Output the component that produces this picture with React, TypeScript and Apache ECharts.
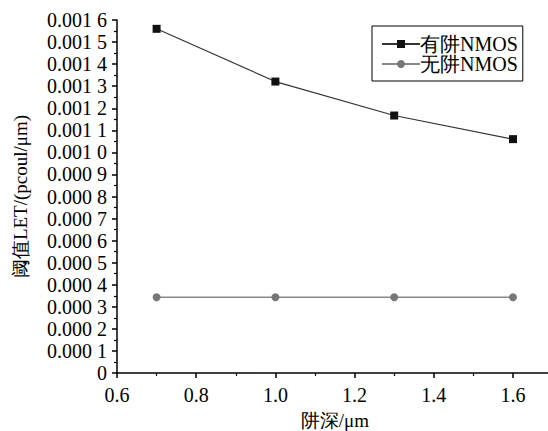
import React, { useEffect, useRef } from "react";
import * as echarts from "echarts";

const depths = [0.7, 1.0, 1.3, 1.6];
const withWell = [0.00156, 0.001321, 0.001167, 0.00106];
const withoutWell = [0.000343, 0.000343, 0.000343, 0.000343];
const seriesNames = ["有阱NMOS", "无阱NMOS"];

const serif = "Liberation Serif";

function fmtY(v: number): string {
  if (Math.abs(v) < 1e-12) return "0";
  const s = v.toFixed(4);
  return s.slice(0, 5) + " " + s.slice(5);
}

export default function App() {
  const ref = useRef<HTMLDivElement>(null);
  useEffect(() => {
    if (!ref.current) return;
    const chart = echarts.init(ref.current, undefined, { renderer: "svg" });
    chart.setOption({
      animation: false,
      backgroundColor: "#fff",
      textStyle: { fontFamily: serif },
      grid: { left: 117, top: 20, bottom: 58, width: 435.6, containLabel: false, outerBoundsMode: "none" },
      legend: {
        orient: "vertical",
        left: 372,
        top: 26,
        borderColor: "#000",
        borderWidth: 1,
        padding: [8, 5, 7, 9],
        itemGap: 0,
        itemWidth: 38,
        itemHeight: 10,
        textStyle: { fontFamily: serif, fontSize: 20, lineHeight: 19, color: "#000", padding: [0, 0, 0, -5] },
        data: seriesNames,
      },
      xAxis: {
        type: "value",
        min: 0.6,
        max: 1.7,
        interval: 0.2,
        name: "阱深/μm",
        nameLocation: "middle",
        nameGap: 38,
        nameTextStyle: { fontFamily: serif, fontSize: 19, lineHeight: 19, color: "#000" },
        axisLine: { show: true, onZero: false, lineStyle: { color: "#000", width: 1.5 } },
        axisTick: { show: true, inside: false, length: 5, lineStyle: { color: "#000", width: 1.5 } },
        minorTick: { show: true, splitNumber: 2, length: 3, lineStyle: { color: "#000", width: 1.2 } },
        axisLabel: {
          fontFamily: serif,
          fontSize: 20,
          color: "#000",
          margin: 12,
          showMaxLabel: false,
          formatter: (v: number) => v.toFixed(1),
        },
        splitLine: { show: false },
      },
      yAxis: {
        type: "value",
        min: 0,
        max: 0.0016,
        interval: 0.0001,
        name: "阈值LET/(pcoul/μm)",
        nameLocation: "middle",
        nameGap: 87,
        nameTextStyle: { fontFamily: serif, fontSize: 19, color: "#000" },
        axisLine: { show: true, lineStyle: { color: "#000", width: 1.5 } },
        axisTick: { show: true, inside: false, length: 5, lineStyle: { color: "#000", width: 1.5 } },
        minorTick: { show: true, splitNumber: 2, length: 3, lineStyle: { color: "#000", width: 1.2 } },
        axisLabel: {
          fontFamily: serif,
          fontSize: 20,
          color: "#000",
          margin: 10,
          formatter: fmtY,
        },
        splitLine: { show: false },
      },
      series: [
        {
          name: seriesNames[0],
          type: "line",
          data: depths.map((d, i) => [d, withWell[i]]),
          symbol: "rect",
          symbolSize: 8,
          lineStyle: { color: "#333", width: 1.2 },
          itemStyle: { color: "#111" },
        },
        {
          name: seriesNames[1],
          type: "line",
          data: depths.map((d, i) => [d, withoutWell[i]]),
          symbol: "circle",
          symbolSize: 8,
          lineStyle: { color: "#888", width: 1.5 },
          itemStyle: { color: "#777" },
        },
      ],
    });
    return () => chart.dispose();
  }, []);
  return (
    <div
      ref={ref}
      style={{ position: "fixed", left: 0, top: 0, width: 548, height: 431, background: "#fff" }}
    />
  );
}
